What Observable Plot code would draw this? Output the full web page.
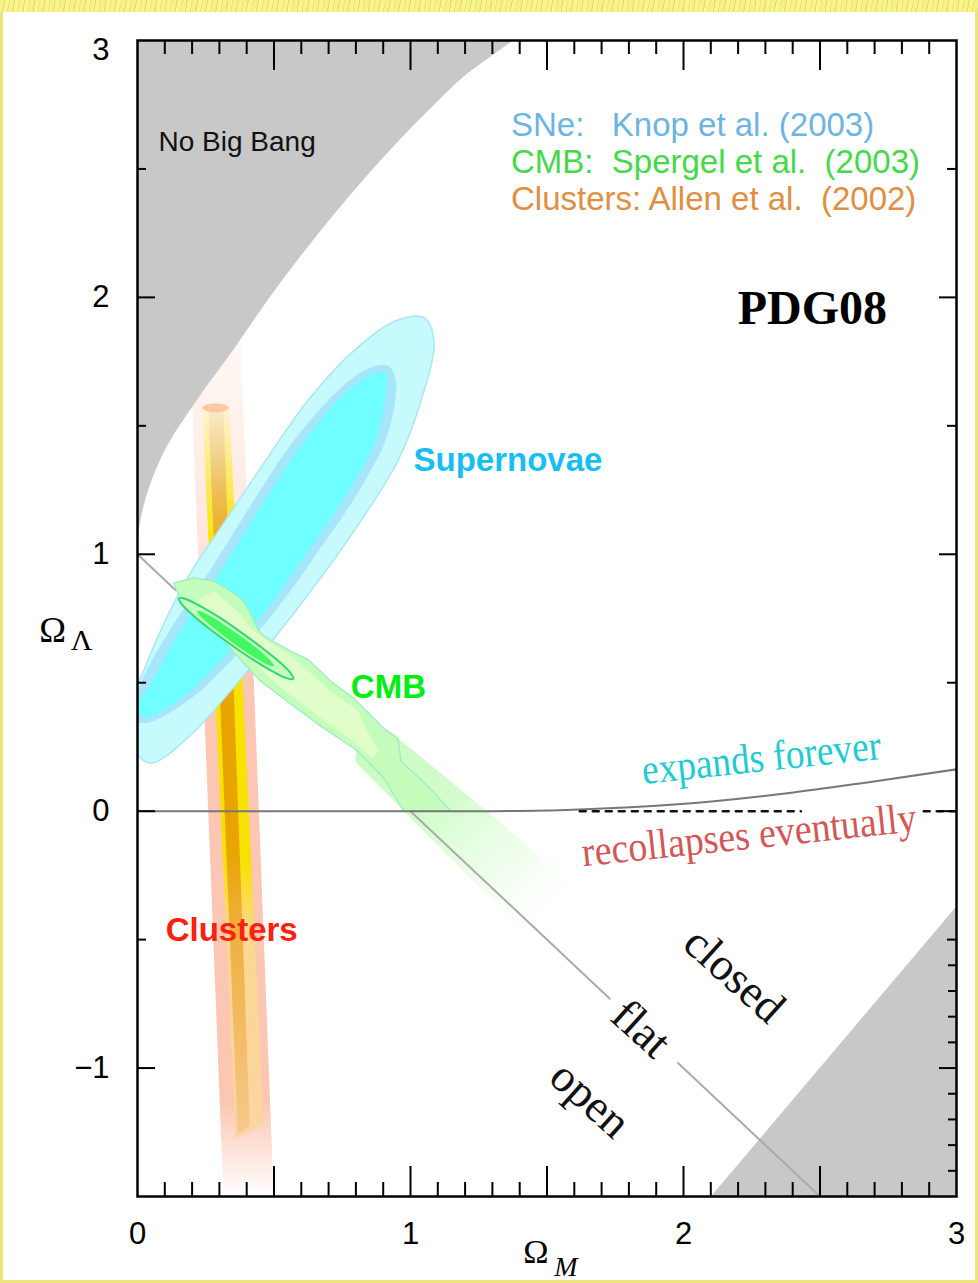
<!DOCTYPE html>
<html><head><meta charset="utf-8">
<script src="https://cdn.jsdelivr.net/npm/d3@7"></script>
<script src="https://cdn.jsdelivr.net/npm/@observablehq/plot@0.6"></script>
<style>
html,body{margin:0;padding:0;background:#fff;}
#wrap{position:relative;width:978px;height:1283px;overflow:hidden;background:#fff;}
#wrap svg{position:absolute;left:0;top:0;}
#border{position:absolute;left:0;top:0;width:978px;height:1283px;box-sizing:border-box;border-left:3px solid #eee57a;border-right:3px solid #eee57a;border-bottom:3px solid #eee57a;pointer-events:none;}
#topstrip{position:absolute;left:0;top:0;width:978px;height:12px;background:repeating-linear-gradient(100deg,#f6f283 0 4px,#e2d96c 4px 5px,#f8f48e 5px 9px,#ebe376 9px 10px);pointer-events:none;}
</style></head><body>
<div id="wrap"><div id="border"></div><div id="topstrip"></div></div>
<script>
// ---- axis ticks / labels ----
const xTickLabels = [0, 1, 2, 3];
const yTickLabels = [2, 1, 0, -1];
const yTopLabel = [3];
const xMinorTicks = [0.1,0.2,0.3,0.4,0.6,0.7,0.8,0.9,1.1,1.2,1.3,1.4,1.6,1.7,1.8,1.9,2.1,2.2,2.3,2.4,2.6,2.7,2.8,2.9];
const xMajorTicks = [0.5,1,1.5,2,2.5];
const yIntTicks = [2,1,0,-1];
const yHalfTicks = [2.5,1.5,0.5,-0.5];
const yRightMinorTicks = [-0.6,-0.7,-0.8,-0.9,-1.1,-1.2,-1.3,-1.4];

// ---- regions (Omega_M, Omega_Lambda) ----
// No-Big-Bang boundary as [Omega_Lambda, Omega_M]
const noBigBangEdge = [[1.05,0],[1.21,0.03],[1.40,0.10],[1.60,0.22],[1.79,0.35],[1.99,0.48],[2.16,0.60],[2.32,0.72],[2.47,0.84],[2.61,0.96],[2.75,1.09],[2.87,1.21],[2.94,1.30],[3.0,1.38]];
const recollapseCorner = [[2.10,-1.5],[3.0,-0.37],[3.0,-1.5]];
const flatSeg1 = [[0,1],[0.14,0.86]];
const flatSeg2 = [[1,0],[1.73,-0.73]];
const flatSeg3 = [[1.98,-0.98],[2.5,-1.5]];
const expansionBoundary = [[0,0],[1.0,0],[1.3,0.0],[1.57,0.005],[1.98,0.027],[2.38,0.07],[2.66,0.11],[3.0,0.163]];
const dashedZero1 = [[1.62,0],[2.43,0]];
const dashedZero2 = [[2.88,0],[3.0,0]];

const snOuter = [[1.049,1.921],[1.086,1.831],[1.038,1.597],[0.954,1.364],[0.818,1.130],[0.671,0.908],[0.513,0.690],[0.341,0.468],[0.183,0.284],[0.048,0.187],[-0.007,0.234],[-0.033,0.409],[0.011,0.518],[0.084,0.701],[0.183,0.908],[0.304,1.103],[0.451,1.336],[0.623,1.597],[0.792,1.792],[0.946,1.909]];
const snMiddle = [[0.917,1.734],[0.946,1.675],[0.917,1.469],[0.818,1.258],[0.671,1.025],[0.513,0.791],[0.341,0.584],[0.183,0.429],[0.029,0.343],[-0.015,0.362],[0.011,0.495],[0.110,0.690],[0.257,0.923],[0.425,1.208],[0.572,1.442],[0.733,1.636],[0.843,1.722]];
const snInner = [[0.910,1.703],[0.913,1.664],[0.880,1.469],[0.781,1.258],[0.634,1.025],[0.477,0.791],[0.304,0.584],[0.147,0.429],[0.022,0.366],[0.004,0.409],[0.048,0.495],[0.150,0.690],[0.297,0.923],[0.466,1.208],[0.612,1.442],[0.770,1.636],[0.873,1.706]];

const cmbTail = [[0.80,0.32],[0.954,0.284],[1.28,0.0],[1.62,-0.31],[1.70,-0.41],[1.50,-0.56],[0.976,0.0],[0.80,0.19]];
const cmbOuter = [[0.132,0.888],[0.205,0.908],[0.279,0.896],[0.352,0.849],[0.389,0.818],[0.414,0.768],[0.440,0.709],[0.462,0.682],[0.561,0.623],[0.623,0.592],[0.708,0.506],[0.792,0.440],[0.902,0.323],[0.954,0.284],[0.965,0.195],[1.064,0.097],[1.148,0.0],[0.976,0.0],[0.902,0.129],[0.807,0.234],[0.682,0.323],[0.561,0.417],[0.451,0.506],[0.352,0.620],[0.231,0.768],[0.150,0.845]];
const cmbPale = [[0.279,0.857],[0.367,0.779],[0.414,0.713],[0.477,0.662],[0.572,0.596],[0.708,0.468],[0.810,0.390],[0.836,0.323],[0.884,0.234],[0.860,0.205],[0.78,0.28],[0.66,0.37],[0.55,0.46],[0.45,0.55],[0.36,0.66],[0.27,0.75],[0.22,0.82]];
const cmbEllipse95 = [[0.571,0.515],[0.561,0.537],[0.522,0.579],[0.457,0.635],[0.378,0.697],[0.297,0.756],[0.225,0.801],[0.174,0.827],[0.151,0.829],[0.161,0.807],[0.201,0.765],[0.265,0.709],[0.344,0.647],[0.426,0.588],[0.497,0.543],[0.549,0.517]];
const cmbEllipse68 = [[0.500,0.565],[0.493,0.579],[0.466,0.608],[0.423,0.646],[0.370,0.688],[0.316,0.727],[0.268,0.759],[0.234,0.777],[0.219,0.779],[0.226,0.765],[0.253,0.736],[0.296,0.698],[0.349,0.656],[0.403,0.616],[0.451,0.585],[0.485,0.567]];

const clOuter = [[0.191,1.831],[0.378,1.831],[0.499,-1.5],[0.315,-1.5]];
const clInner = [[0.238,1.570],[0.337,1.570],[0.462,-1.219],[0.359,-1.274]];
const clCore = [[0.260,1.558],[0.315,1.558],[0.411,-1.223],[0.367,-1.255]];
const clCap = [[0.237,1.570],[0.252,1.582],[0.286,1.587],[0.320,1.582],[0.335,1.570],[0.320,1.558],[0.286,1.553],[0.252,1.558]];

const legendLines = ["SNe:\u00a0\u00a0 Knop et al. (2003)", "CMB:\u00a0 Spergel et al. \u00a0(2003)", "Clusters: Allen et al. \u00a0(2002)"];
const legendColors = ["#6db5df", "#45d94a", "#e08f42"];

// ---- layout ----
const W = 978, H = 1283, mL = 137, mR = 22, mT = 40, mB = 87;
const FW = W - mL - mR, FH = H - mT - mB;
const X = d => d[0], Y = d => d[1];
const poly = (data, fill, o = {}) => Plot.line(data, {x: X, y: Y, fill, stroke: "none", curve: "linear-closed", clip: true, ...o});
const smooth = (data, fill, o = {}) => Plot.line(data, {x: X, y: Y, fill, stroke: "none", curve: "catmull-rom-closed", clip: true, ...o});
const seg = (data, stroke, o = {}) => Plot.line(data, {x: X, y: Y, stroke, strokeWidth: 2, clip: true, ...o});
const fmt = d => d < 0 ? "\u2212" + Math.abs(d) : String(d);
const serif = "'Liberation Serif', 'Times New Roman', serif";
const sans = "'Liberation Sans', Arial, sans-serif";

const plot = Plot.plot({
  width: W, height: H,
  marginLeft: mL, marginRight: mR, marginTop: mT, marginBottom: mB,
  x: {domain: [0, 3], axis: null},
  y: {domain: [-1.5, 3], axis: null},
  style: {fontFamily: sans, background: "transparent"},
  marks: [
    // clusters
    poly(clOuter, "url(#gClOuter)"),
    poly(clInner, "url(#gClInner)"),
    poly(clCore, "url(#gClCore)"),
    smooth(clCap, "#fcc89e"),
    // forbidden regions
    Plot.areaX(noBigBangEdge, {y: d => d[0], x1: 0, x2: d => d[1], fill: "#c8c8c8", curve: "monotone-y", clip: true}),
    poly(recollapseCorner, "#c8c8c8"),
    // supernovae
    smooth(snOuter, "#c7fafd", {stroke: "#a9e6f6", strokeWidth: 1.5}),
    smooth(snMiddle, "#a6e5fa"),
    smooth(snInner, "#70ffff"),
    // CMB
    poly(cmbTail, "url(#gCmbTail)"),
    seg(flatSeg1, "#aaaaaa"),
    seg(flatSeg2, "#aaaaaa"),
    seg(flatSeg3, "#aaaaaa"),
    poly(cmbOuter, "#c4fcbc", {stroke: "#9cedc4", strokeWidth: 1.3}),
    poly(cmbPale, "#e0fcc9"),
    smooth(cmbEllipse95, "#c4fcbc", {stroke: "#2fd874", strokeWidth: 2}),
    smooth(cmbEllipse68, "#42f862"),
    // expansion boundary
    Plot.line(expansionBoundary, {x: X, y: Y, stroke: "#777777", strokeWidth: 2, curve: "monotone-x", clip: true}),
    seg(dashedZero1, "#111111", {strokeWidth: 2.5, strokeDasharray: "6,7"}),
    seg(dashedZero2, "#111111", {strokeWidth: 2.5, strokeDasharray: "6,7"}),
    // annotations
    Plot.text(["No Big Bang"], {x: 0.077, y: 2.606, textAnchor: "start", fontSize: 28, fill: "#111"}),
    Plot.text([legendLines[0]], {x: 1.368, y: 2.671, textAnchor: "start", fontSize: 33, fill: legendColors[0]}),
    Plot.text([legendLines[1]], {x: 1.368, y: 2.527, textAnchor: "start", fontSize: 33, fill: legendColors[1]}),
    Plot.text([legendLines[2]], {x: 1.368, y: 2.383, textAnchor: "start", fontSize: 33, fill: legendColors[2]}),
    Plot.text(["PDG08"], {x: 2.472, y: 1.957, fontSize: 48, fontWeight: "bold", fontFamily: serif, fill: "#000"}),
    Plot.text(["Supernovae"], {x: 1.357, y: 1.366, fontSize: 33, fontWeight: "bold", fill: "#17bff0"}),
    Plot.text(["CMB"], {x: 0.919, y: 0.482, fontSize: 33, fontWeight: "bold", fill: "#00ee10"}),
    Plot.text(["Clusters"], {x: 0.345, y: -0.465, fontSize: 33, fontWeight: "bold", fill: "#ff2010"}),
    Plot.text(["expands forever"], {x: 2.285, y: 0.207, rotate: -6, fontSize: 42, fontFamily: serif, fill: "#1fcbd2"}),
    Plot.text(["recollapses eventually"], {x: 2.240, y: -0.094, rotate: -6, fontSize: 42, fontFamily: serif, fill: "#d35757"}),
    Plot.text(["closed"], {x: 2.186, y: -0.638, rotate: 42, fontSize: 46, fontFamily: serif, fill: "#111"}),
    Plot.text(["flat"], {x: 1.845, y: -0.847, rotate: 42, fontSize: 46, fontFamily: serif, fill: "#111"}),
    Plot.text(["open"], {x: 1.658, y: -1.122, rotate: 42, fontSize: 46, fontFamily: serif, fill: "#111"}),
    // frame & ticks
    Plot.frame({stroke: "#000", strokeWidth: 2.5}),
    Plot.ruleX(xMinorTicks, {x: d => d, insetBottom: FH - 14, stroke: "#000", strokeWidth: 2}),
    Plot.ruleX(xMajorTicks, {x: d => d, insetBottom: FH - 30, stroke: "#000", strokeWidth: 2}),
    Plot.ruleX(xMinorTicks, {x: d => d, insetTop: FH - 14, stroke: "#000", strokeWidth: 2}),
    Plot.ruleX(xMajorTicks, {x: d => d, insetTop: FH - 30, stroke: "#000", strokeWidth: 2}),
    Plot.ruleY(yIntTicks, {y: d => d, insetRight: FW - 18, stroke: "#000", strokeWidth: 2}),
    Plot.ruleY(yHalfTicks, {y: d => d, insetRight: FW - 9, stroke: "#000", strokeWidth: 2}),
    Plot.ruleY(yIntTicks, {y: d => d, insetLeft: FW - 17, stroke: "#000", strokeWidth: 2}),
    Plot.ruleY(yHalfTicks, {y: d => d, insetLeft: FW - 9, stroke: "#000", strokeWidth: 2}),
    Plot.ruleY(yRightMinorTicks, {y: d => d, insetLeft: FW - 8, stroke: "#000", strokeWidth: 2}),
    // tick labels
    Plot.text(xTickLabels, {x: d => d, frameAnchor: "bottom", lineAnchor: "top", dy: 25, text: fmt, fontSize: 31, fill: "#000"}),
    Plot.text(yTickLabels, {y: d => d, frameAnchor: "left", textAnchor: "end", dx: -28, text: fmt, fontSize: 31, fill: "#000"}),
    Plot.text(yTopLabel, {y: d => d, frameAnchor: "left", textAnchor: "end", dx: -28, dy: 10, text: fmt, fontSize: 31, fill: "#000"}),
    // axis titles
    Plot.text(["\u03a9"], {frameAnchor: "bottom", textAnchor: "middle", lineAnchor: "middle", dx: -11, dy: 56, fontSize: 34, fontFamily: serif, fill: "#000"}),
    Plot.text(["M"], {frameAnchor: "bottom", textAnchor: "middle", lineAnchor: "middle", dx: 19, dy: 71, fontSize: 28, fontFamily: serif, fontStyle: "italic", fill: "#000"}),
    Plot.text(["\u03a9"], {frameAnchor: "left", textAnchor: "middle", lineAnchor: "middle", dx: -85, dy: 12, fontSize: 36, fontFamily: serif, fill: "#000"}),
    Plot.text(["\u039b"], {frameAnchor: "left", textAnchor: "middle", lineAnchor: "middle", dx: -56, dy: 22, fontSize: 30, fontFamily: serif, fill: "#000"})
  ]
});

// gradient definitions (colour stops only, bounding-box relative)
const defs = d3.create("svg:defs");
function grad(id, stops, x2 = 0, y2 = 1) {
  const g = defs.append("linearGradient").attr("id", id).attr("x1", 0).attr("y1", 0).attr("x2", x2).attr("y2", y2);
  stops.forEach(([o, c, a]) => g.append("stop").attr("offset", o).attr("stop-color", c).attr("stop-opacity", a));
}
grad("gClOuter", [[0, "#fbc6b2", 0.12], [0.24, "#fbc6b2", 0.45], [0.38, "#fbc6b2", 1], [0.89, "#fbc6b2", 1], [1, "#fbc6b2", 0]]);
grad("gClInner", [[0, "#fff4d8", 1], [0.1, "#faea60", 1], [0.18, "#f8e600", 1], [0.62, "#f8e000", 1], [0.72, "#fcd890", 1], [1, "#fcd4a4", 1]]);
grad("gClCore", [[0, "#fbe9c8", 1], [0.12, "#ecbc50", 1], [0.22, "#e8a400", 1], [0.6, "#e8a400", 1], [0.72, "#efb040", 1], [1, "#f6c88c", 1]]);
grad("gCmbTail", [[0, "#c4fcbc", 1], [0.35, "#cffcc8", 0.9], [0.6, "#e2fddc", 0.55], [0.85, "#ffffff", 0]], 1, 1);
plot.insertBefore(defs.node(), plot.firstChild);

// condensed serif labels
plot.querySelectorAll("text").forEach(t => {
  if (t.textContent === "expands forever") { t.setAttribute("textLength", 240); t.setAttribute("lengthAdjust", "spacingAndGlyphs"); }
  if (t.textContent === "recollapses eventually") { t.setAttribute("textLength", 336); t.setAttribute("lengthAdjust", "spacingAndGlyphs"); }
});

const wrap = document.getElementById("wrap");
wrap.insertBefore(plot, wrap.firstChild);
</script></body></html>
